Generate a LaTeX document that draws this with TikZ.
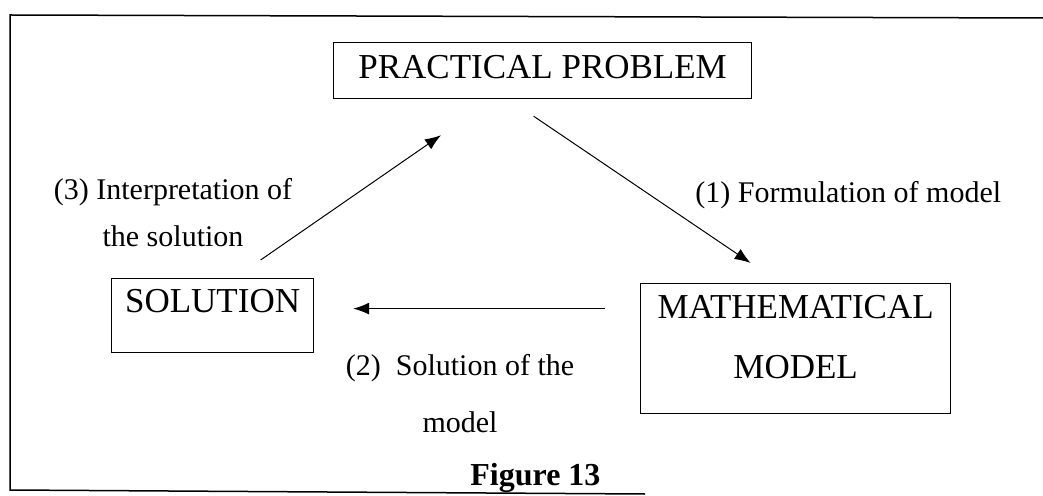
\documentclass[tikz,border=0pt]{standalone}
\usepackage{fontspec}
\setmainfont{Liberation Serif}
\usetikzlibrary{arrows.meta}

\begin{document}
\begin{tikzpicture}[x=0.5pt, y=-0.5pt,
    box/.style={draw, line width=0.6pt, inner xsep=0pt,
      font=\fontsize{17.5}{30}\selectfont},
    lbl/.style={inner sep=0pt, font=\fontsize{15}{23.5}\selectfont},
    arr/.style={-{Latex[length=8pt, width=6pt]}, line width=0.5pt}]
  \useasboundingbox (0, 0) rectangle (1043, 496);
  \draw[line width=0.75pt] (1043, 18) -- (10, 15) -- (10, 490) -- (645,
  494); %
  \node[box, anchor=north west, minimum width=209pt, inner ysep=6.5pt,
  text height=11.5pt, text depth=3.5pt] (problem) at (333, 42)
  {PRACTICAL PROBLEM};
  \node[box, anchor=north west, minimum width=155pt, align=center,
  inner ysep=6pt, text height=41.5pt, text depth=11.5pt] (model) at
  (640, 283) {MATHEMATICAL\\MODEL};
  \node[box, anchor=north west, minimum width=101pt, inner ysep=5.5pt,
  text height=11.5pt, text depth=14.5pt] (solution) at (111, 278)
  {SOLUTION};
  \draw[arr] ([xshift=-4.5pt, yshift=-8.5pt]problem.south) --
  ([xshift=-22.5pt, yshift=10pt]model.north); %
  \draw[arr] ([xshift=-17.5pt, yshift=20pt]model.west) --
  ([xshift=19.5pt, yshift=3.5pt]solution.east); %
  \draw[arr] ([xshift=24pt, yshift=9pt]solution.north) --
  ([xshift=54pt, yshift=-18pt]problem.south west); %
  \node[lbl, anchor=base west] (formulate) at (695, 203) {(1)
    Formulation of model};
  \node[lbl, align=center, anchor=base] (interpret) at (173, 247) {(3)
    Interpretation of\\the solution};
  \node[lbl, align=center, anchor=base,
  font=\fontsize{15}{28.5}\selectfont] (solve) at (460, 432)
  {(2)\ \ Solution of the\\model};
  \node[inner sep=0pt, anchor=base west,
  font=\fontsize{16}{16}\selectfont\bfseries] (caption) at (470, 485)
  {Figure 13};
\end{tikzpicture}
\end{document}
